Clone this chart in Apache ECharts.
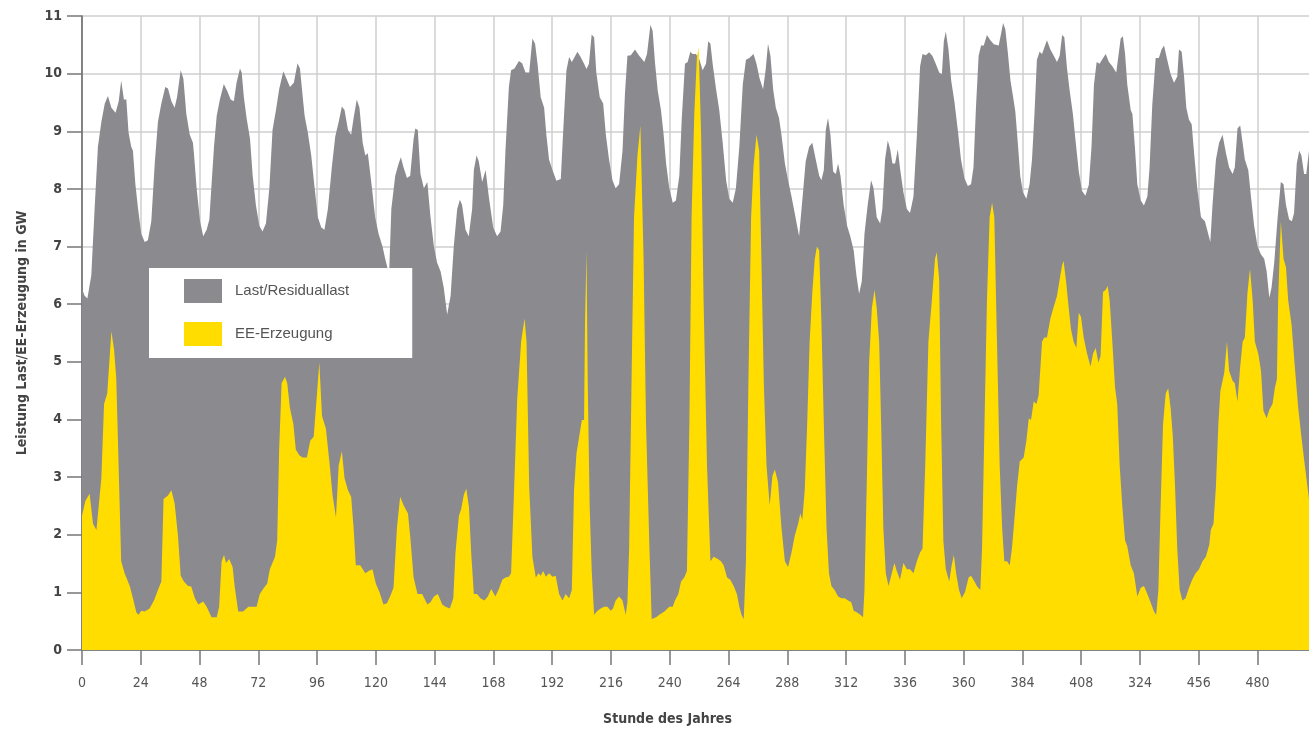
<!DOCTYPE html>
<html>
<head>
<meta charset="utf-8">
<script src="https://cdn.jsdelivr.net/npm/echarts@6/dist/echarts.min.js"></script>
<style>
html,body{margin:0;padding:0;background:#fff;}
#c{width:1309px;height:731px;}
</style>
</head>
<body>
<div id="c"></div>
<script>
// Tick labels as printed in the original (note: "324" at the 432 position)
const tickValues = [0,24,48,72,96,120,144,168,192,216,240,264,288,312,336,360,384,408,432,456,480];
const tickLabels = ['0','24','48','72','96','120','144','168','192','216','240','264','288','312','336','360','384','408','324','456','480'];

// Last/Residuallast [hour, GW]
const lastData = [
[0,6.27],[1,6.15],[2.2,6.1],[3.8,6.5],[5.2,7.7],[6.5,8.73],[7.9,9.16],[9.3,9.48],[10.6,9.61],[12,9.41],[13.7,9.32],[15,9.52],[16,9.88],[17.1,9.55],[18.1,9.55],[19,8.98],[20.1,8.73],[20.8,8.66],[21.8,8.08],[22.9,7.65],[24.2,7.22],[25.6,7.08],[26.9,7.11],[28.3,7.44],[29.7,8.44],[31,9.16],[32.4,9.48],[34,9.77],[35.1,9.74],[36.5,9.52],[37.8,9.41],[38.8,9.59],[40.3,10.06],[41.4,9.91],[42.6,9.3],[44,8.94],[45.3,8.8],[45.7,8.62],
[46.8,8.01],[48.2,7.44],[49.5,7.18],[50.9,7.29],[52,7.47],[52.9,8.08],[53.9,8.73],[55,9.27],[56.3,9.55],[57.9,9.82],[59.3,9.7],[60.7,9.55],[62,9.52],[63.1,9.84],[64.5,10.09],[65.2,10.02],[66.1,9.59],[67.2,9.23],[68.6,8.87],[69.7,8.23],[71,7.72],[72.4,7.36],[73.7,7.26],[75.1,7.4],[76.5,8.01],[77.8,9.02],[79.2,9.37],[80.5,9.73],[82.2,10.04],[83.5,9.91],[84.9,9.77],[86.5,9.84],[88,10.18],[89,10.09],[90.3,9.52],
[90.9,9.27],[92.2,8.98],[93.6,8.58],[95,8.01],[96.3,7.51],[97.7,7.33],[99,7.29],[100.4,7.65],[102,8.37],[103.4,8.91],[104.8,9.16],[106.1,9.43],[107.2,9.37],[108.6,9.02],[109.9,8.94],[110.9,9.23],[112.2,9.55],[113.3,9.41],[114.6,8.8],[115.7,8.58],[116.7,8.62],[118.4,8.01],[119.7,7.51],[121.1,7.22],[122.7,7.0],[123.8,6.79],[124.9,6.6],[125.3,6.4],[126.3,7.65],[127.9,8.23],[129.3,8.44],[130.2,8.55],[131.3,8.37],[132.7,8.19],[134,8.23],[135.4,8.87],[136.1,9.05],[137.1,9.02],
[138.2,8.26],[139.6,8.01],[141,8.12],[142.3,7.51],[143.7,7.0],[145,6.72],[146.4,6.57],[147.7,6.29],[149.1,5.82],[150.5,6.14],[151.8,7.0],[153.2,7.65],[154.3,7.81],[155.2,7.72],[156.6,7.29],[157.9,7.18],[159.3,7.65],[160,8.33],[161.1,8.58],[162,8.48],[163.4,8.12],[164.8,8.33],[166.1,7.87],[167.9,7.33],[169.5,7.18],[170.9,7.26],[172,7.72],[172.9,8.66],[174.3,9.77],[175.2,10.06],[176.6,10.09],[178.4,10.22],[179.7,10.18],[181.1,10.02],
[182.6,10.02],[183.9,10.61],[185,10.52],[186,10.17],[187.3,9.59],[188.7,9.41],[189.6,8.94],[190.7,8.51],[192.1,8.33],[193.7,8.14],[195.5,8.17],[196.4,8.94],[197.8,10.06],[198.9,10.29],[200,10.2],[200.9,10.27],[202.3,10.38],[203.6,10.29],[205,10.17],[206,10.08],[207,10.17],[208.1,10.68],[209.1,10.63],[210,10.02],[211.4,9.59],[212.8,9.48],[213.9,8.94],[215.2,8.51],[216.6,8.15],[217.9,8.01],[219.3,8.08],[220.7,8.66],[221.7,9.66],[222.7,10.31],[224.1,10.32],[225.8,10.42],[227.5,10.31],
[228.3,10.31],[229.6,10.2],[230.7,10.34],[232.1,10.85],[233,10.74],[234,10.17],[235.1,9.7],[236.4,9.37],[237.5,8.94],[238.5,8.44],[239.8,8.01],[241.2,7.76],[242.5,7.8],[243.9,8.23],[244.9,9.23],[246.2,10.17],[247.3,10.2],[248.4,10.38],[249.3,10.34],[250.7,10.34],[252.1,10.24],[253.4,10.06],[254.8,10.17],[255.7,10.56],[256.6,10.52],[257.5,10.17],[258.9,9.73],[260.2,9.37],[261.6,8.8],[263,8.15],[264.3,7.83],[265.7,7.76],[267,8.01],[268.4,8.73],[269.8,9.81],[271.1,10.24],[272.5,10.27],[274.2,10.34],
[275.4,10.17],[276.7,9.91],[278.1,9.73],[279.2,10.09],[280.1,10.52],[281.1,10.31],[282.2,9.73],[283.3,9.41],[284.6,9.23],[285.6,8.94],[287,8.44],[288.3,8.15],[289.7,7.87],[291,7.58],[292.8,7.18],[294.1,7.8],[295.5,8.48],[296.9,8.73],[298.2,8.8],[299.6,8.51],[301,8.23],[301.9,8.15],[302.9,8.33],[303.7,9.02],[304.6,9.23],[305.6,8.94],[306.7,8.3],[307.8,8.26],[308.7,8.44],[309.7,8.23],[311,7.72],[312.4,7.36],[313.7,7.18],[315.1,6.93],[316.2,6.5],[317.3,6.18],
[318.4,6.4],[319.5,7.22],[320.8,7.72],[322.2,8.15],[323.2,8.01],[324.5,7.51],[325.9,7.4],[326.8,7.65],[327.9,8.51],[329,8.84],[330,8.69],[330.9,8.44],[332,8.44],[333.1,8.69],[334.1,8.33],[335.4,7.94],[336.8,7.65],[338.1,7.58],[339.5,7.87],[340.9,8.94],[342.2,10.13],[343.2,10.34],[344.5,10.32],[345.9,10.37],[347.2,10.31],[348.6,10.17],[350,10.02],[351.1,9.99],[351.9,10.56],[352.7,10.73],[353.8,10.42],[354.9,9.88],[356.2,9.52],[357.6,9.02],[358.9,8.51],[360.3,8.19],[361.7,8.05],[363,8.08],[364,8.37],
[365,9.4],[366.1,10.31],[367.1,10.49],[368.2,10.49],[369.5,10.67],[370.9,10.58],[372.3,10.51],[374.3,10.49],[375.3,10.7],[376.1,10.88],[377,10.77],[378,10.38],[379.1,9.88],[380.2,9.59],[381.1,9.34],[382.1,8.8],[383.1,8.23],[384.2,7.94],[385.6,7.83],[386.9,8.08],[387.9,8.51],[388.9,9.3],[389.9,10.24],[391,10.38],[392,10.34],[392.9,10.45],[394,10.58],[395.4,10.42],[396.8,10.31],[398.1,10.2],[399.2,10.31],[400.2,10.67],[401.1,10.63],[402.2,10.09],[403.3,9.7],[404.6,9.3],[405.6,8.87],[407,8.3],[408.3,7.97],[409.7,7.88],
[411.1,8.07],[412.2,8.73],[413.2,9.81],[414.3,10.2],[415.5,10.17],[416.6,10.25],[418,10.34],[419.3,10.2],[420.7,10.13],[422.3,10.02],[423.1,10.04],[424.1,10.61],[425,10.65],[425.9,10.34],[426.8,9.81],[428.2,9.37],[428.9,9.3],[429.9,8.73],[430.9,8.08],[432.3,7.8],[433.6,7.71],[435,7.87],[435.9,8.37],[437,9.45],[438.4,10.27],[439.7,10.27],[440.8,10.42],[441.8,10.49],[443.1,10.24],[444.5,9.99],[445.9,9.84],[447.2,9.95],[447.9,10.42],[449,10.38],[450,9.95],[450.9,9.41],[452,9.2],[453.1,9.12],[454,8.66],[455.4,8.0],
[456.9,7.51],[458.5,7.44],[459.6,7.26],[460.7,7.08],[461.6,7.72],[463,8.51],[464.3,8.8],[465.7,8.94],[467.1,8.62],[468.4,8.37],[469.8,8.26],[470.7,8.37],[471.8,9.05],[472.9,9.1],[473.9,8.8],[474.8,8.51],[476.2,8.33],[477.3,7.87],[478.6,7.36],[480,7.0],[481.4,6.86],[482.7,6.79],[483.7,6.57],[484.8,6.11],[485.7,6.29],[486.8,6.72],[488.2,7.51],[489.5,8.12],[490.6,8.08],[491.6,7.72],[492.9,7.47],[494,7.44],[494.9,7.58],[496,8.44],[497,8.66],[497.9,8.58],[499,8.26],[499.9,8.26],[501,8.66]
];

// EE-Erzeugung [hour, GW]
const eeData = [
[0,2.33],[1.4,2.59],[3.1,2.71],[4.5,2.19],[5.9,2.08],[7.9,2.98],[9,4.27],[10.3,4.45],[12,5.53],[13.1,5.21],[14,4.7],[16,1.54],[17.4,1.33],[19.5,1.11],[20.8,0.9],[22.2,0.65],[23.1,0.61],[24.2,0.68],[25.6,0.67],[27.6,0.72],[29.4,0.86],[31,1.04],[32.4,1.19],[33.3,2.62],[35.1,2.68],[36.5,2.77],[37.8,2.55],[39.2,1.98],[40.3,1.29],[41.6,1.19],[43.3,1.11],[44.6,1.1],
[46.1,0.9],[47.5,0.79],[49.5,0.84],[50.9,0.75],[52.9,0.57],[55,0.57],[56,0.75],[57,1.54],[58,1.65],[58.8,1.51],[60.1,1.58],[61.5,1.44],[62.4,1.08],[63.8,0.67],[65.8,0.67],[67.9,0.75],[71.3,0.75],[72.6,0.97],[74.3,1.08],[75.6,1.15],[76.7,1.4],[78.8,1.62],[79.7,1.9],[80.5,3.48],[81.5,4.63],[82.9,4.74],[83.8,4.63],[84.9,4.2],[86.3,3.92],[87.3,3.48],[88.7,3.38],[90.1,3.34],
[91.8,3.34],[93.2,3.63],[94.6,3.7],[95.9,4.42],[96.9,4.99],[98,4.06],[99.6,3.84],[101,3.27],[102.3,2.69],[103.7,2.3],[104.8,3.2],[106.1,3.45],[107.2,2.98],[108.6,2.77],[109.9,2.66],[110.9,2.12],[111.8,1.47],[113.6,1.47],[115.7,1.33],[117,1.37],[118.6,1.4],[120,1.15],[121.4,1.01],[123.1,0.79],[124.5,0.81],[125.8,0.93],[127.2,1.08],[128.6,2.12],[129.9,2.66],[131.3,2.51],[133.1,2.37],[134,1.98],[135.4,1.26],
[137,0.97],[138.9,0.97],[141,0.79],[142.3,0.83],[143.7,0.93],[145.3,0.97],[147.1,0.79],[148.4,0.75],[150.2,0.72],[151.6,0.9],[152.5,1.69],[153.9,2.33],[154.8,2.44],[155.9,2.69],[156.9,2.8],[158,2.48],[158.9,1.69],[160,0.97],[161.3,0.97],[162.7,0.9],[164.3,0.86],[165.7,0.93],[167.1,1.06],[168.8,0.93],[170.2,1.06],[171.6,1.22],[172.9,1.26],[174.3,1.27],[175.2,1.33],[176.3,2.62],[177.7,4.35],[179.3,5.35],[180.7,5.75],[181.5,5.35],
[182.6,2.84],[183.9,1.62],[185.3,1.26],[186.4,1.33],[187.3,1.29],[188.3,1.37],[189.4,1.27],[190.7,1.33],[192.1,1.27],[193.4,1.29],[194.8,0.97],[196.2,0.86],[197.5,0.97],[198.9,0.9],[200,1.04],[200.9,2.77],[201.9,3.41],[203,3.7],[204.1,3.99],[205,3.99],[205.4,5.71],[206,6.93],[206.5,4.63],[207.3,2.48],[208.1,1.4],[209.1,0.61],[210.5,0.68],[211.8,0.72],[213.2,0.75],[214.5,0.75],[215.9,0.68],[216.8,0.72],[217.9,0.86],[219.3,0.93],[220.7,0.86],[222,0.61],[222.7,0.83],[223.4,1.76],[224.5,4.99],[225.4,7.51],[226.8,8.58],[228,9.1],
[229.3,6.79],[230.3,3.92],[231.7,1.76],[232.6,0.54],[234.4,0.57],[235.7,0.61],[237.8,0.67],[239.8,0.75],[241.2,0.75],[242.1,0.86],[243.5,0.97],[244.6,1.19],[245.9,1.26],[247,1.37],[248,3.92],[248.9,7.51],[250,9.3],[251.1,10.31],[251.8,10.45],[252.8,8.94],[253.8,6.07],[255.2,3.2],[256.6,1.54],[257.9,1.62],[259.6,1.58],[260.9,1.54],[262,1.47],[263.4,1.26],[264.7,1.22],[266.1,1.11],[267.4,0.97],[268.4,0.75],[269.3,0.61],[270.2,0.54],[271.1,1.54],[272.1,4.63],[273.2,7.51],[274.2,8.4],
[275.4,8.94],[276.5,8.66],[277.4,6.79],[278.4,4.63],[279.5,3.2],[280.8,2.51],[281.9,3.02],[282.9,3.13],[284.2,2.91],[285.6,2.12],[287,1.54],[288.3,1.44],[289.7,1.69],[291,1.98],[292.4,2.19],[293.3,2.37],[294.1,2.26],[295.1,2.77],[296.1,3.92],[297.1,5.35],[298.2,6.21],[299.2,6.79],[300.1,7.0],[301,6.93],[301.9,5.71],[302.9,3.92],[304,2.12],[305,1.33],[306,1.11],[307.3,1.04],[308.7,0.93],[310.1,0.9],[311.4,0.9],[312.8,0.86],[314.1,0.83],[315.1,0.68],[316.5,0.65],[317.8,0.61],[318.9,0.57],
[319.5,1.04],[320.4,2.84],[321.4,4.99],[322.5,5.93],[323.6,6.25],[324.5,5.93],[325.5,5.35],[326.3,3.92],[327.2,2.12],[328.2,1.33],[329.3,1.11],[330.4,1.29],[331.7,1.51],[332.7,1.37],[334,1.22],[335.4,1.51],[336.8,1.4],[338.1,1.4],[339.5,1.33],[340.9,1.54],[342.2,1.69],[343.2,1.76],[344.3,3.2],[345.6,5.35],[347,6.07],[348.3,6.79],[349,6.9],[350,6.43],[350.8,3.92],[351.7,1.9],[352.7,1.4],[354.1,1.19],[355.1,1.47],[356,1.65],[356.9,1.33],[358.1,1.04],[359.2,0.9],[360.6,1.01],[362,1.26],[363,1.29],[364.4,1.19],
[365.5,1.1],[366.8,1.04],[367.5,1.76],[368.5,3.92],[369.5,6.07],[370.6,7.51],[371.6,7.76],[372.5,7.51],[373.6,5.35],[374.7,3.2],[375.7,2.12],[376.6,1.54],[377.7,1.54],[378.8,1.47],[379.7,1.76],[380.7,2.26],[381.8,2.84],[382.9,3.27],[384.5,3.34],[385.6,3.63],[386.6,4.02],[387.5,3.99],[388.6,4.31],[389.7,4.27],[390.6,4.42],[392,5.35],[392.9,5.42],[394,5.42],[395.4,5.75],[396.8,5.96],[398.1,6.14],[399.2,6.43],[400.2,6.68],[400.8,6.75],[401.9,6.36],[402.9,5.93],[403.8,5.57],[404.9,5.35],[406,5.24],[407,5.85],[407.9,5.78],[409,5.42],[410.4,5.14],
[411.8,4.92],[412.8,5.14],[413.9,5.24],[415,4.99],[415.9,5.1],[416.9,6.21],[418,6.25],[418.8,6.32],[419.6,6.07],[420.7,5.35],[421.8,4.56],[422.7,4.27],[423.7,3.2],[424.8,2.48],[425.9,1.9],[426.8,1.8],[428.2,1.47],[429.5,1.33],[430.9,0.93],[432.3,1.08],[433.6,1.11],[435,0.97],[436.3,0.83],[437.7,0.67],[438.6,0.61],[439.5,1.04],[440.4,2.48],[441.4,3.92],[442.5,4.45],[443.5,4.54],[444.5,4.2],[445.4,3.7],[446.3,2.84],[447.2,1.76],[448.2,1.04],[449.3,0.86],[450.6,0.9],[452,1.08],[453.3,1.22],[454.7,1.33],[456.1,1.4],
[457.5,1.54],[458.9,1.62],[460.3,1.83],[460.9,2.08],[462,2.19],[463,2.84],[464,3.92],[464.8,4.49],[466.4,4.81],[467.5,5.35],[468.4,4.84],[469.8,4.67],[470.7,4.63],[471.8,4.31],[472.9,4.92],[473.9,5.35],[474.8,5.42],[475.9,6.21],[476.9,6.61],[478,6.07],[478.9,5.35],[480.3,5.14],[481.4,4.84],[482.4,4.15],[483.7,4.02],[484.8,4.17],[486.1,4.27],[487.1,4.56],[487.9,4.7],[488.4,6.07],[489.5,7.44],[490.6,6.79],[491.6,6.64],[492.5,6.07],[493.9,5.64],[495.2,4.92],[496.6,4.2],[497.9,3.7],[499.3,3.2],[501,2.62]
];

const GRAY = '#8b8a8f';
const YELLOW = '#ffdd00';
const FONT = '"Liberation Sans Narrow","Arial Narrow","DejaVu Sans Condensed","Liberation Sans",sans-serif';

const chart = echarts.init(document.getElementById('c'), null, {renderer: 'canvas'});
chart.setOption({
  animation: false,
  backgroundColor: '#ffffff',
  grid: {left: 82, right: 0, top: 16, bottom: 79, containLabel: false},
  legend: {
    orient: 'vertical',
    left: 149, top: 268,
    padding: [11, 63, 12, 35],
    backgroundColor: '#ffffff',
    itemWidth: 38, itemHeight: 24, itemGap: 19,
    icon: 'rect',
    textStyle: {fontFamily: '"Liberation Sans",Arial,sans-serif', fontSize: 15, color: '#555', padding: [0,0,0,8]},
    data: ['Last/Residuallast', 'EE-Erzeugung']
  },
  xAxis: {
    type: 'value', min: 0, max: 501,
    name: 'Stunde des Jahres',
    nameLocation: 'middle', nameGap: 62,
    nameTextStyle: {fontFamily: FONT, fontWeight: 'bold', fontSize: 14, color: '#444', padding: [0, 56, 0, 0]},
    axisLine: {show: true, lineStyle: {color: '#666', width: 1.5}},
    axisTick: {show: true, length: 15, lineStyle: {color: '#777', width: 1.5}, customValues: tickValues},
    axisLabel: {
      customValues: tickValues, margin: 26,
      fontFamily: FONT, fontSize: 14, color: '#555',
      formatter: v => tickLabels[tickValues.indexOf(v)] ?? ''
    },
    splitLine: {show: true, lineStyle: {color: '#cfcfcf', width: 1.5}}
  },
  yAxis: {
    type: 'value', min: 0, max: 11, interval: 1,
    name: 'Leistung Last/EE-Erzeugung in GW',
    nameLocation: 'middle', nameGap: 53,
    nameTextStyle: {fontFamily: FONT, fontWeight: 'bold', fontSize: 14, color: '#444'},
    axisLine: {show: true, lineStyle: {color: '#666', width: 1.5}},
    axisTick: {show: true, length: 15, lineStyle: {color: '#777', width: 1.5}},
    axisLabel: {margin: 20, fontFamily: FONT, fontSize: 14, fontWeight: 'bold', color: '#444'},
    splitLine: {show: true, lineStyle: {color: '#cfcfcf', width: 1.5}}
  },
  series: [
    {
      name: 'Last/Residuallast', type: 'line', data: lastData,
      showSymbol: false, symbol: 'none', smooth: false,
      itemStyle: {color: GRAY},
      lineStyle: {width: 0, color: GRAY},
      areaStyle: {color: GRAY, opacity: 1},
      z: 2
    },
    {
      name: 'EE-Erzeugung', type: 'line', data: eeData,
      showSymbol: false, symbol: 'none', smooth: false,
      itemStyle: {color: YELLOW},
      lineStyle: {width: 0, color: YELLOW},
      areaStyle: {color: YELLOW, opacity: 1},
      z: 3
    }
  ]
});
</script>
</body>
</html>
